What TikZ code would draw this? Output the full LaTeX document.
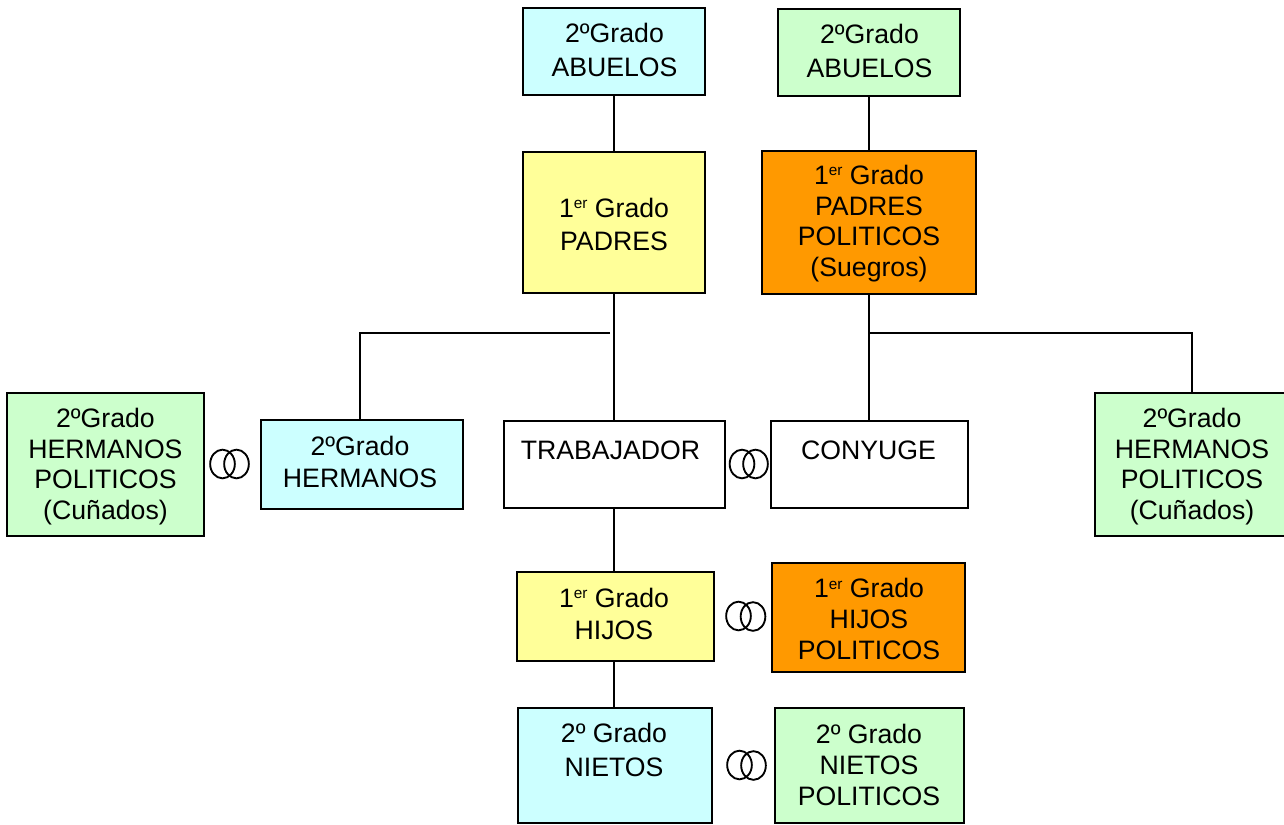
\documentclass[tikz,border=0pt]{standalone}
\usepackage{fontspec}
\usetikzlibrary{shapes.geometric}
\setmainfont{Liberation Sans}
\definecolor{cy}{HTML}{CCFFFF}
\definecolor{gr}{HTML}{CCFFCC}
\definecolor{ye}{HTML}{FFFF99}
\definecolor{or}{HTML}{FF9900}
\newcommand{\er}{\raisebox{6.5pt}{\fontsize{11.5pt}{11.5pt}\selectfont er}}
\tikzset{x=0.75pt,y=-0.75pt,
 bx/.style={draw=black,line width=1.5pt,inner sep=0pt,anchor=north west},
 lbl/.style={font=\fontsize{20pt}{25.5pt}\selectfont,align=center,anchor=center,inner sep=0pt},
 tight/.style={font=\fontsize{20pt}{23pt}\selectfont},
 mid/.style={font=\fontsize{20pt}{24.6pt}\selectfont},
 ln/.style={draw=black,line width=1.5pt},
 ring/.style={draw=black,line width=1.4pt,ellipse,minimum width=18.5pt,minimum height=21.5pt,inner sep=0pt,fill=none}}
\begin{document}
\begin{tikzpicture}
\useasboundingbox (0,0) rectangle (1284,824);
\node[bx,fill=cy,minimum width=136.6pt,minimum height=65.6pt] (a1) at (521.75,6.75) {};
\node[bx,fill=gr,minimum width=136.6pt,minimum height=65.6pt] (a2) at (776.75,7.75) {};
\node[bx,fill=ye,minimum width=136.6pt,minimum height=106.1pt] (p1) at (521.75,150.75) {};
\node[bx,fill=or,minimum width=160.6pt,minimum height=107.6pt] (p2) at (760.75,149.75) {};
\node[bx,fill=gr,minimum width=147.6pt,minimum height=107.6pt] (c1) at (5.75,391.75) {};
\node[bx,fill=cy,minimum width=151.6pt,minimum height=66.6pt] (h1) at (259.75,418.75) {};
\node[bx,fill=white,minimum width=165.6pt,minimum height=65.6pt] (t) at (503.25,419.75) {};
\node[bx,fill=white,minimum width=147.6pt,minimum height=65.6pt] (y) at (769.75,419.75) {};
\node[bx,fill=gr,minimum width=146.6pt,minimum height=107.6pt] (c2) at (1093.75,391.75) {};
\node[bx,fill=ye,minimum width=147.6pt,minimum height=66.6pt] (hi1) at (515.75,570.75) {};
\node[bx,fill=or,minimum width=144.6pt,minimum height=81.6pt] (hi2) at (770.75,561.75) {};
\node[bx,fill=cy,minimum width=145.6pt,minimum height=86.6pt] (n1) at (516.75,706.75) {};
\node[bx,fill=gr,minimum width=141.6pt,minimum height=86.6pt] (n2) at (773.75,706.75) {};
\coordinate (j1e) at (610,333);
\coordinate (j1l) at (360,333);
\coordinate (j2) at (868.5,333);
\coordinate (j2r) at (1192,333);
\draw[ln] (a1.south -| 614,0) -- (p1.north -| 614,0);
\draw[ln] (p1.south -| 614,0) -- (t.north -| 614,0);
\draw[ln] (t.south -| 614,0) -- (hi1.north -| 614,0);
\draw[ln] (hi1.south -| 614,0) -- (n1.north -| 614,0);
\draw[ln] (a2.south -| 868.5,0) -- (p2.north -| 868.5,0);
\draw[ln] (p2.south -| 868.5,0) -- (y.north -| 868.5,0);
\draw[ln] (j1e) -- (j1l) -- (h1.north -| j1l);
\draw[ln] (j2) -- (j2r) -- (c2.north -| j2r);
\foreach \n/\x/\y in {r1/222.5/464,r2/236.5/464,r3/742/464,r4/755.5/464,r5/738.5/616,r6/753/616.5,r7/739.5/765,r8/753.5/765.5}
  \node[ring] (\n) at (\x,\y) {};
\node[lbl] (la1) at (614.5,50) {2ºGrado\\ABUELOS};
\node[lbl] (la2) at (869.5,50.5) {2ºGrado\\ABUELOS};
\node[lbl,mid] (lp1) at (614,224.5) {1\er{} Grado\\PADRES};
\node[lbl,tight] (lp2) at (869,223.5) {1\er{} Grado\\PADRES\\POLITICOS\\(Suegros)};
\node[lbl,tight] (lc1) at (105.5,466.5) {2ºGrado\\HERMANOS\\POLITICOS\\(Cuñados)};
\node[lbl,mid] (lh1) at (360,462) {2ºGrado\\HERMANOS};
\node[lbl] (lt) at (610.5,450) {TRABAJADOR};
\node[lbl] (ly) at (868.5,450) {CONYUGE};
\node[lbl,tight] (lc2) at (1192,466.5) {2ºGrado\\HERMANOS\\POLITICOS\\(Cuñados)};
\node[lbl,mid] (lhi1) at (614,614) {1\er{} Grado\\HIJOS};
\node[lbl,tight] (lhi2) at (869,619) {1\er{} Grado\\HIJOS\\POLITICOS};
\node[lbl] (ln1) at (614,750) {2º Grado\\NIETOS};
\node[lbl,tight] (ln2) at (869,765) {2º Grado\\NIETOS\\POLITICOS};
\end{tikzpicture}
\end{document}
